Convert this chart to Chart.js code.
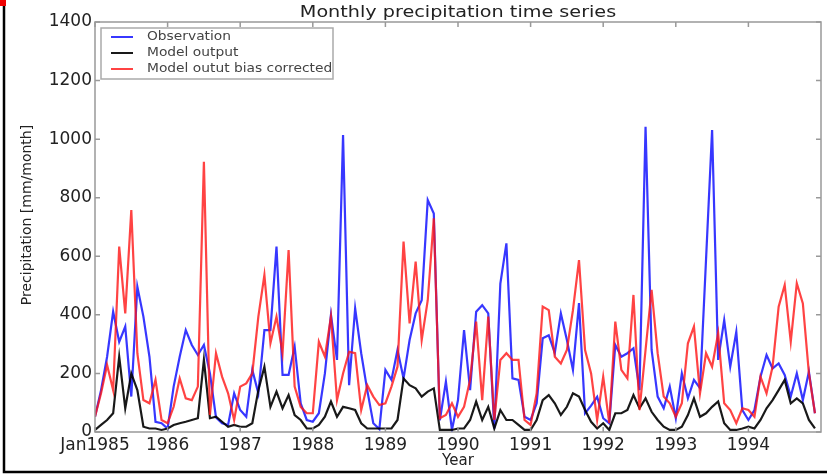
<!DOCTYPE html>
<html><head><meta charset="utf-8">
<script src="https://cdn.jsdelivr.net/npm/chart.js@4"></script>
<style>html,body{margin:0;padding:0;background:#fff;overflow:hidden}canvas{display:block}</style>
</head><body>
<canvas id="c" width="827" height="476"></canvas>
<script>
const titleText = "Monthly precipitation time series";
const yAxisTitle = "Precipitation [mm/month]";
const xAxisTitle = "Year";
const seriesNames = ["Observation", "Model output", "Model outut bias corrected"];
const yearTickMonths = [0, 12, 24, 36, 48, 60, 72, 84, 96, 108];
const yearTickLabels = ["Jan1985", "1986", "1987", "1988", "1989", "1990", "1991", "1992", "1993", "1994"];
const yTicks = [0, 200, 400, 600, 800, 1000, 1200, 1400];

const observation = [
  52,143,257,411,308,360,121,496,394,257,35,30,
  12,155,257,348,297,263,297,200,50,30,24,132,
  75,52,212,132,348,348,633,195,195,291,98,41,
  35,64,200,400,246,1014,160,422,269,143,30,10,
  212,178,280,183,314,405,450,792,746,40,172,7,
  109,348,143,411,433,405,12,507,644,183,178,52,
  41,98,320,330,270,405,314,212,440,64,90,120,
  47,30,297,257,269,286,143,1042,280,121,81,155,
  47,200,115,178,150,590,1031,246,382,223,342,75,
  41,75,189,263,217,234,195,121,200,109,206,64
];
const modelOutput = [
  7,24,41,64,257,81,200,143,18,12,12,7,
  12,24,30,35,41,47,246,47,52,35,18,24,
  18,18,30,143,223,86,138,81,126,58,41,12,
  12,24,52,104,52,86,81,75,30,12,12,12,
  12,12,41,183,160,149,121,138,149,7,7,7,
  12,12,41,104,41,86,12,75,41,41,24,7,
  7,41,109,126,98,58,86,132,121,75,35,12,
  30,7,64,64,75,126,81,115,69,41,18,7,
  7,18,58,115,52,64,86,104,30,7,7,12,
  18,12,41,81,109,143,178,98,115,98,41,12
];
const biasCorrected = [
  52,132,229,143,633,405,758,269,109,98,178,41,
  30,86,183,115,109,155,923,58,269,189,132,41,
  155,166,200,394,536,303,394,269,621,155,86,64,
  64,308,257,394,109,200,274,269,75,160,121,92,
  98,155,223,650,371,582,314,450,730,47,58,98,
  52,86,178,377,109,394,41,246,269,246,246,41,
  24,132,428,416,257,234,280,416,587,280,200,41,
  189,30,377,212,183,468,75,280,485,269,121,98,
  52,98,303,360,132,269,223,337,98,75,30,81,
  75,52,189,132,223,428,502,308,508,439,200,64
];

const toPoints = arr => arr.map((v, i) => ({x: i, y: v}));
const FONT = "'DejaVu Sans', sans-serif";

function stretchedText(ctx, text, x, y, sx) {
  ctx.save();
  ctx.translate(x, y);
  ctx.scale(sx, 1);
  ctx.fillText(text, 0, 0);
  ctx.restore();
}

const decor = {
  id: 'decor',
  beforeDraw(chart) {
    const ctx = chart.ctx;
    ctx.save();
    ctx.fillStyle = '#fff';
    ctx.fillRect(0, 0, chart.width, chart.height);
    ctx.strokeStyle = '#000';
    ctx.lineWidth = 2.5;
    ctx.beginPath();
    ctx.moveTo(4, 6); ctx.lineTo(4, 472); ctx.lineTo(827, 472);
    ctx.stroke();
    ctx.fillStyle = '#e00';
    ctx.fillRect(0, 0, 6, 6);
    ctx.restore();
  },
  afterDatasetsDraw(chart) {
    const ctx = chart.ctx;
    const a = chart.chartArea;
    const xs = chart.scales.x, ys = chart.scales.y;
    ctx.save();
    ctx.strokeStyle = '#999';
    ctx.lineWidth = 1.5;
    ctx.strokeRect(a.left, a.top, a.right - a.left, a.bottom - a.top);
    ctx.beginPath();
    yearTickMonths.forEach(m => {
      const px = xs.getPixelForValue(m);
      ctx.moveTo(px, a.bottom); ctx.lineTo(px, a.bottom - 5);
      ctx.moveTo(px, a.top); ctx.lineTo(px, a.top + 5);
    });
    yTicks.forEach(v => {
      const py = ys.getPixelForValue(v);
      ctx.moveTo(a.left, py); ctx.lineTo(a.left + 5, py);
      ctx.moveTo(a.right, py); ctx.lineTo(a.right - 5, py);
    });
    ctx.stroke();

    // legend
    const lx = 101, ly = 28, lw = 232, lh = 51;
    ctx.fillStyle = '#fff';
    ctx.fillRect(lx, ly, lw, lh);
    ctx.strokeStyle = '#aaa';
    ctx.lineWidth = 1.5;
    ctx.strokeRect(lx, ly, lw, lh);
    chart.data.datasets.forEach((ds, i) => {
      const ry = 37 + i * 16;
      ctx.strokeStyle = ds.borderColor;
      ctx.lineWidth = 2;
      ctx.beginPath(); ctx.moveTo(111, ry); ctx.lineTo(133, ry); ctx.stroke();
      ctx.fillStyle = '#444';
      ctx.font = '11.5px ' + FONT;
      ctx.textBaseline = 'middle';
      ctx.textAlign = 'left';
      stretchedText(ctx, ds.label, 147, ry, 1.2);
    });

    // title
    ctx.fillStyle = '#222';
    ctx.font = '15px ' + FONT;
    ctx.textAlign = 'center';
    ctx.textBaseline = 'middle';
    stretchedText(ctx, titleText, (a.left + a.right) / 2, 13, 1.28);

    // y axis title
    ctx.save();
    ctx.translate(27, 215);
    ctx.rotate(-Math.PI / 2);
    ctx.font = '14px ' + FONT;
    ctx.fillStyle = '#222';
    ctx.textAlign = 'center';
    ctx.textBaseline = 'middle';
    ctx.fillText(yAxisTitle, 0, 0);
    ctx.restore();
    ctx.restore();
  }
};

new Chart(document.getElementById('c'), {
  type: 'line',
  data: {
    datasets: [
      {label: seriesNames[0], data: toPoints(observation), borderColor: 'rgba(20,20,255,0.85)', borderWidth: 2.2, pointRadius: 0, tension: 0, order: 2},
      {label: seriesNames[1], data: toPoints(modelOutput), borderColor: 'rgba(0,0,0,0.9)', borderWidth: 2.2, pointRadius: 0, tension: 0, order: 1},
      {label: seriesNames[2], data: toPoints(biasCorrected), borderColor: 'rgba(255,20,20,0.8)', borderWidth: 2.2, pointRadius: 0, tension: 0, order: 0}
    ]
  },
  options: {
    responsive: false, animation: false, devicePixelRatio: 1,
    layout: {padding: {left: 0, right: 6, top: 22, bottom: 0}},
    plugins: {legend: {display: false}, tooltip: {enabled: false}, title: {display: false}},
    scales: {
      x: {
        type: 'linear', min: 0, max: 120,
        grid: {display: false, drawTicks: false}, border: {display: false},
        afterBuildTicks: s => { s.ticks = yearTickMonths.map(v => ({value: v})); },
        ticks: {autoSkip: false, maxRotation: 0, minRotation: 0, padding: 3, color: '#222',
          font: {family: FONT, size: 17}, callback: (v, i) => yearTickLabels[i]},
        title: {display: true, text: xAxisTitle, color: '#222', font: {family: FONT, size: 15}, padding: {top: 0, bottom: 6}},
        afterFit: s => { s.height = 44; }
      },
      y: {
        type: 'linear', min: 0, max: 1400,
        grid: {display: false, drawTicks: false}, border: {display: false},
        afterBuildTicks: s => { s.ticks = yTicks.map(v => ({value: v})); },
        ticks: {padding: 3, color: '#222', font: {family: FONT, size: 17}, callback: v => String(v)},
        title: {display: false},
        afterFit: s => { s.width = 95; }
      }
    }
  },
  plugins: [decor]
});
</script>
</body></html>
